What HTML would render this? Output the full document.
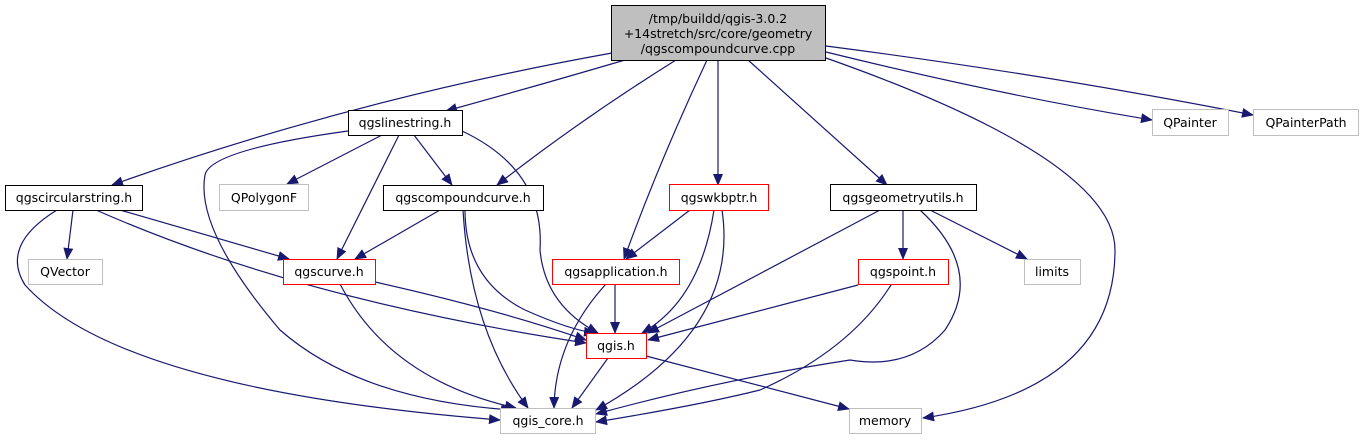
<!DOCTYPE html>
<html><head><meta charset="utf-8"><style>
html,body{margin:0;padding:0;background:#fff;}
svg{display:block;}
text{font-family:"DejaVu Sans","Liberation Sans",sans-serif;font-size:12.5px;fill:#000;}
.e{fill:none;stroke:#191970;stroke-width:1.2;}
</style></head><body>
<svg width="1363" height="440" viewBox="0 0 1363 440" xmlns="http://www.w3.org/2000/svg">
<defs><marker id="a" markerWidth="12" markerHeight="10" refX="11" refY="5" orient="auto" markerUnits="userSpaceOnUse"><path d="M0,0 L12,5 L0,10 Z" fill="#191970"/></marker></defs>
<g class="e" marker-end="url(#a)">
<path d="M612,53 Q350,100 112,185"/>
<path d="M625,60 Q540,85 446,111"/>
<path d="M676,60 Q580,120 497,185"/>
<path d="M707,60 Q660,160 624,259"/>
<path d="M718,60 L718,185"/>
<path d="M748,60 L887,185"/>
<path d="M826,58 Q1115,160 1115,250 Q1115,390 923,418"/>
<path d="M826,52 Q1000,95 1152,120"/>
<path d="M826,46 Q1050,75 1253,115"/>
<path d="M382,135 L287,184"/>
<path d="M414,135 L452,185"/>
<path d="M399,135 L337,259"/>
<path d="M462,131 Q545,170 540,250 Q545,305 598,333"/>
<path d="M348,131 Q210,150 205,175 Q195,230 280,330 Q360,400 512,410"/>
<path d="M73,210 L67,259"/>
<path d="M120,210 L289,259"/>
<path d="M96,210 Q300,300 586,343"/>
<path d="M57,210 Q0,245 25,285 Q120,390 500,420"/>
<path d="M440,210 L355,259"/>
<path d="M465,210 Q465,280 525,310 Q570,330 595,333"/>
<path d="M463,210 Q470,330 528,408"/>
<path d="M690,210 L626,259"/>
<path d="M714,210 Q700,300 642,333"/>
<path d="M722,210 Q740,330 596,410"/>
<path d="M880,210 L648,333"/>
<path d="M903,210 L903,259"/>
<path d="M930,210 L1027,259"/>
<path d="M920,210 Q985,270 945,330 Q910,370 850,360 Q720,380 596,414"/>
<path d="M375,282 Q500,310 586,340"/>
<path d="M340,284 Q390,380 516,408"/>
<path d="M615,284 L615,333"/>
<path d="M606,284 Q555,340 554,408"/>
<path d="M858,285 L648,340"/>
<path d="M891,285 Q850,350 760,390 Q700,405 596,422"/>
<path d="M608,358 L572,408"/>
<path d="M646,356 L849,409"/>
</g>
<rect x="611.5" y="5.5" width="214" height="55" fill="#bfbfbf" stroke="#000"/>
<text x="718" y="23" text-anchor="middle">/tmp/buildd/qgis-3.0.2</text>
<text x="718" y="38" text-anchor="middle">+14stretch/src/core/geometry</text>
<text x="718" y="53" text-anchor="middle">/qgscompoundcurve.cpp</text>
<g fill="#fff" stroke-width="1">
<rect x="348.5" y="110.5" width="114" height="25" stroke="#000"/>
<rect x="1152.5" y="109.5" width="76" height="26" stroke="#bfbfbf"/>
<rect x="1253.5" y="109.5" width="105" height="26" stroke="#bfbfbf"/>
<rect x="5.5" y="185.5" width="137" height="25" stroke="#000"/>
<rect x="219.5" y="184.5" width="89" height="26" stroke="#bfbfbf"/>
<rect x="383.5" y="185.5" width="160" height="25" stroke="#000"/>
<rect x="669.5" y="184.5" width="99" height="26" stroke="#f00"/>
<rect x="830.5" y="184.5" width="146" height="26" stroke="#000"/>
<rect x="28.5" y="259.5" width="74" height="25" stroke="#bfbfbf"/>
<rect x="283.5" y="259.5" width="92" height="25" stroke="#f00"/>
<rect x="552.5" y="259.5" width="127" height="25" stroke="#f00"/>
<rect x="858.5" y="259.5" width="90" height="25" stroke="#f00"/>
<rect x="1024.5" y="259.5" width="56" height="25" stroke="#bfbfbf"/>
<rect x="586.5" y="333.5" width="60" height="25" stroke="#f00"/>
<rect x="500.5" y="408.5" width="95" height="25" stroke="#bfbfbf"/>
<rect x="849.5" y="408.5" width="72" height="25" stroke="#bfbfbf"/>
</g>
<g text-anchor="middle">
<text x="405" y="127">qgslinestring.h</text>
<text x="1190" y="127">QPainter</text>
<text x="1306" y="127">QPainterPath</text>
<text x="74" y="202">qgscircularstring.h</text>
<text x="264" y="202">QPolygonF</text>
<text x="463" y="202">qgscompoundcurve.h</text>
<text x="719" y="202">qgswkbptr.h</text>
<text x="903" y="202">qgsgeometryutils.h</text>
<text x="65" y="276">QVector</text>
<text x="329" y="276">qgscurve.h</text>
<text x="616" y="276">qgsapplication.h</text>
<text x="903" y="276">qgspoint.h</text>
<text x="1052" y="276">limits</text>
<text x="616" y="350">qgis.h</text>
<text x="548" y="425">qgis_core.h</text>
<text x="885" y="425">memory</text>
</g>
</svg>
</body></html>
